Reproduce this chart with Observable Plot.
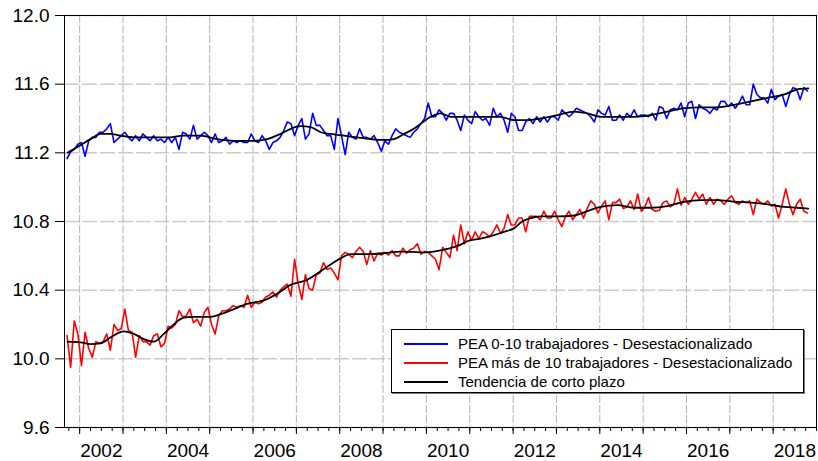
<!DOCTYPE html>
<html><head><meta charset="utf-8">
<script src="https://cdn.jsdelivr.net/npm/d3@7"></script>
<script src="https://cdn.jsdelivr.net/npm/@observablehq/plot@0.6"></script>
<style>
body{margin:0;background:#fff;}
#wrap{position:relative;width:818px;height:461px;}
#legend{position:absolute;left:391px;top:329px;width:413px;height:64px;border:1px solid #000;background:#fff;box-shadow:1px 1px 0 #777;font:15px "Liberation Sans",Arial,sans-serif;box-sizing:border-box;color:#000;}
.row{position:absolute;left:12px;height:19px;display:flex;align-items:center;white-space:nowrap;}
.sw{width:44px;height:2px;margin-right:10px;}
</style></head>
<body><div id="wrap"></div>
<script>
// Monthly observations, starting September 2001
const startYear = 2001, startMonth = 9;
const blue = [
11.167,11.206,11.22,11.25,11.26,11.18,11.27,11.29,11.29,11.32,
11.32,11.34,11.37,11.26,11.28,11.30,11.32,11.29,11.27,11.30,
11.27,11.31,11.29,11.27,11.30,11.27,11.28,11.26,11.29,11.26,
11.29,11.22,11.32,11.31,11.28,11.36,11.28,11.30,11.32,11.30,
11.26,11.31,11.26,11.27,11.29,11.25,11.27,11.26,11.27,11.26,
11.26,11.31,11.27,11.26,11.30,11.27,11.22,11.26,11.27,11.29,
11.33,11.38,11.37,11.30,11.36,11.40,11.28,11.31,11.43,11.36,
11.36,11.33,11.30,11.30,11.22,11.40,11.30,11.19,11.32,11.29,
11.28,11.34,11.29,11.29,11.28,11.30,11.26,11.21,11.27,11.25,
11.30,11.34,11.32,11.31,11.30,11.29,11.32,11.34,
11.37,11.40,11.49,11.41,11.41,11.45,11.43,11.39,11.43,11.43,
11.39,11.33,11.42,11.39,11.37,11.44,11.41,11.39,11.40,11.36,
11.46,11.41,11.43,11.39,11.32,11.43,11.41,11.33,11.33,11.38,
11.40,11.37,11.41,11.38,11.41,11.38,11.41,11.41,11.39,11.45,
11.43,11.41,11.43,11.46,11.45,11.44,11.43,11.41,11.38,11.45,
11.43,11.42,11.47,11.39,11.39,11.42,11.39,11.43,11.41,11.45,
11.41,11.42,11.42,11.41,11.43,11.39,11.47,11.46,11.40,11.45,
11.46,11.45,11.49,11.41,11.49,11.50,11.40,11.48,11.46,11.45,
11.43,11.46,11.45,11.50,11.50,11.47,11.49,11.46,11.49,11.53,
11.48,11.48,11.60,11.54,11.52,11.52,11.49,11.57,11.51,11.53,
11.54,11.47,11.54,11.58,11.57,11.51,11.58,11.56];
const red = [
10.135,9.95,10.22,10.145,9.96,10.155,10.06,10.01,10.10,10.09,
10.10,10.145,10.05,10.20,10.165,10.175,10.29,10.165,10.155,10.01,
10.135,10.10,10.10,10.08,10.135,10.145,10.07,10.09,10.19,10.18,
10.20,10.28,10.245,10.25,10.29,10.21,10.23,10.19,10.27,10.30,
10.20,10.145,10.25,10.28,10.28,10.29,10.31,10.30,10.31,10.30,
10.37,10.30,10.33,10.32,10.33,10.36,10.37,10.39,10.36,10.40,
10.42,10.435,10.365,10.58,10.44,10.345,10.49,10.41,10.40,10.49,
10.50,10.56,10.52,10.53,10.50,10.46,10.60,10.62,10.61,10.59,
10.625,10.65,10.625,10.55,10.63,10.57,10.615,10.605,10.62,10.605,
10.63,10.60,10.60,10.645,10.615,10.635,10.645,10.67,
10.61,10.625,10.62,10.60,10.58,10.52,10.65,10.62,10.59,10.72,
10.63,10.78,10.67,10.74,10.69,10.74,10.70,10.74,10.73,10.71,
10.74,10.78,10.73,10.76,10.84,10.78,10.78,10.82,10.82,10.74,
10.83,10.83,10.83,10.81,10.86,10.82,10.82,10.86,10.81,10.77,
10.83,10.86,10.81,10.84,10.87,10.82,10.875,10.92,10.90,10.85,
10.89,10.92,10.81,10.91,10.91,10.93,10.875,10.885,10.92,10.87,
10.96,10.86,10.885,10.94,10.87,10.86,10.865,10.91,10.92,10.885,
10.90,10.99,10.895,10.94,10.90,10.93,10.97,10.93,10.96,10.90,
10.94,10.90,10.93,10.92,10.90,10.93,10.95,10.91,10.90,10.92,
10.91,10.92,10.84,10.93,10.91,10.90,10.92,10.89,10.90,10.82,
10.90,10.99,10.90,10.84,10.90,10.93,10.86,10.85];
// Short-term trend, read at decimal years
const trendBlueYears = [2001.72,2002.02,2002.25,2002.48,2002.71,2002.94,2003.25,2003.63,2004.02,2004.40,2004.79,2005.17,2005.56,2006.02,2006.33,2006.63,2006.87,2007.10,2007.33,2007.56,2007.79,2008.10,2008.40,2008.71,2009.02,2009.25,2009.48,2009.71,2009.87,2010.10,2010.33,2010.56,2010.94,2011.33,2011.71,2012.02,2012.33,2012.64,2013.02,2013.41,2013.71,2014.02,2014.41,2014.79,2015.18,2015.56,2015.95,2016.33,2016.72,2017.10,2017.49,2017.87,2018.26,2018.56,2018.81];
const trendBlue = [11.20,11.245,11.28,11.31,11.31,11.30,11.29,11.29,11.29,11.30,11.30,11.28,11.27,11.27,11.28,11.31,11.34,11.355,11.35,11.32,11.31,11.30,11.29,11.28,11.275,11.28,11.31,11.34,11.37,11.41,11.43,11.41,11.41,11.41,11.41,11.39,11.39,11.40,11.42,11.44,11.43,11.41,11.41,11.41,11.42,11.44,11.46,11.465,11.465,11.48,11.50,11.52,11.54,11.57,11.575];
const trendRedYears = [2001.72,2002.02,2002.25,2002.48,2002.71,2003.02,2003.25,2003.48,2003.71,2003.94,2004.17,2004.40,2004.63,2005.02,2005.25,2005.56,2005.86,2006.25,2006.56,2006.86,2007.25,2007.56,2007.79,2008.02,2008.25,2008.63,2009.02,2009.40,2009.87,2010.17,2010.48,2010.79,2010.94,2011.25,2011.56,2011.79,2012.02,2012.21,2012.41,2012.64,2013.02,2013.41,2013.71,2014.02,2014.41,2014.79,2015.18,2015.56,2015.95,2016.33,2016.72,2017.10,2017.49,2017.87,2018.26,2018.56,2018.81];
const trendRed = [10.10,10.096,10.086,10.09,10.125,10.16,10.145,10.115,10.10,10.145,10.20,10.24,10.245,10.245,10.26,10.29,10.32,10.34,10.38,10.43,10.46,10.51,10.55,10.585,10.61,10.61,10.615,10.625,10.62,10.625,10.64,10.665,10.685,10.70,10.72,10.74,10.76,10.80,10.82,10.83,10.83,10.835,10.86,10.885,10.895,10.88,10.88,10.89,10.915,10.925,10.925,10.915,10.91,10.90,10.885,10.88,10.875];
const yTicks = [9.6, 10.0, 10.4, 10.8, 11.2, 11.6, 12.0];
const gridYears = [2002,2003,2004,2005,2006,2007,2008,2009,2010,2011,2012,2013,2014,2015,2016,2017,2018];
const labelYears = [2002,2004,2006,2008,2010,2012,2014,2016,2018];
const legendLabels = ["PEA 0-10 trabajadores - Desestacionalizado","PEA más de 10 trabajadores - Desestacionalizado","Tendencia de corto plazo"];
const colors = ["#0000ff","#ff0000","#000000"];

const toT = i => startYear + (startMonth - 1 + i + 0.5) / 12;
const blueRows = blue.map((v, i) => ({t: toT(i), v}));
const redRows = red.map((v, i) => ({t: toT(i), v}));
const tbRows = trendBlue.map((v, i) => ({t: trendBlueYears[i], v}));
const trRows = trendRed.map((v, i) => ({t: trendRedYears[i], v}));
const quarterTicks = d3.range(2001.75, 2019.01, 0.25);

const chart = Plot.plot({
  width: 818, height: 461,
  marginLeft: 64, marginTop: 15, marginRight: 2, marginBottom: 34,
  x: {domain: [2001.65, 2019.0], label: null},
  y: {domain: [9.6, 12.0], label: null},
  style: {fontFamily: "'Liberation Sans', Arial, sans-serif", fontSize: "19px", color: "#000", background: "#fff"},
  marks: [
    Plot.ruleY(yTicks, {stroke: "#cccccc", strokeWidth: 1.5, strokeDasharray: "15,3"}),
    Plot.ruleX(gridYears, {stroke: "#b4b4b4", strokeWidth: 1, strokeDasharray: "8,2"}),
    Plot.line(blueRows, {x: "t", y: "v", stroke: colors[0], strokeWidth: 1.6}),
    Plot.line(redRows, {x: "t", y: "v", stroke: colors[1], strokeWidth: 1.6}),
    Plot.line(tbRows, {x: "t", y: "v", stroke: colors[2], strokeWidth: 1.8, curve: "monotone-x"}),
    Plot.line(trRows, {x: "t", y: "v", stroke: colors[2], strokeWidth: 1.8, curve: "monotone-x"}),
    Plot.frame({stroke: "#000"}),
    Plot.axisY({ticks: yTicks, label: null, tickFormat: d3.format(".1f"), tickSize: 9, tickPadding: 6, fontSize: 19}),
    Plot.axisX({ticks: gridYears, label: null, tickSize: 7, tickFormat: () => ""}),
    Plot.axisX({ticks: quarterTicks, label: null, tickSize: 4, tickFormat: () => ""}),
    Plot.axisX({ticks: labelYears.map(y => y + 0.5), label: null, tickSize: 0, tickPadding: 16, fontSize: 19, tickFormat: d => String(Math.floor(d))})
  ]
});
const wrap = document.getElementById("wrap");
wrap.appendChild(chart);

const legend = document.createElement("div");
legend.id = "legend";
const tops = [4, 23, 42];
legendLabels.forEach((label, k) => {
  const row = document.createElement("div");
  row.className = "row";
  row.style.top = tops[k] + "px";
  const sw = document.createElement("div");
  sw.className = "sw";
  sw.style.background = colors[k];
  const tx = document.createElement("span");
  tx.textContent = label;
  row.appendChild(sw); row.appendChild(tx);
  legend.appendChild(row);
});
wrap.appendChild(legend);
</script>
</body></html>
